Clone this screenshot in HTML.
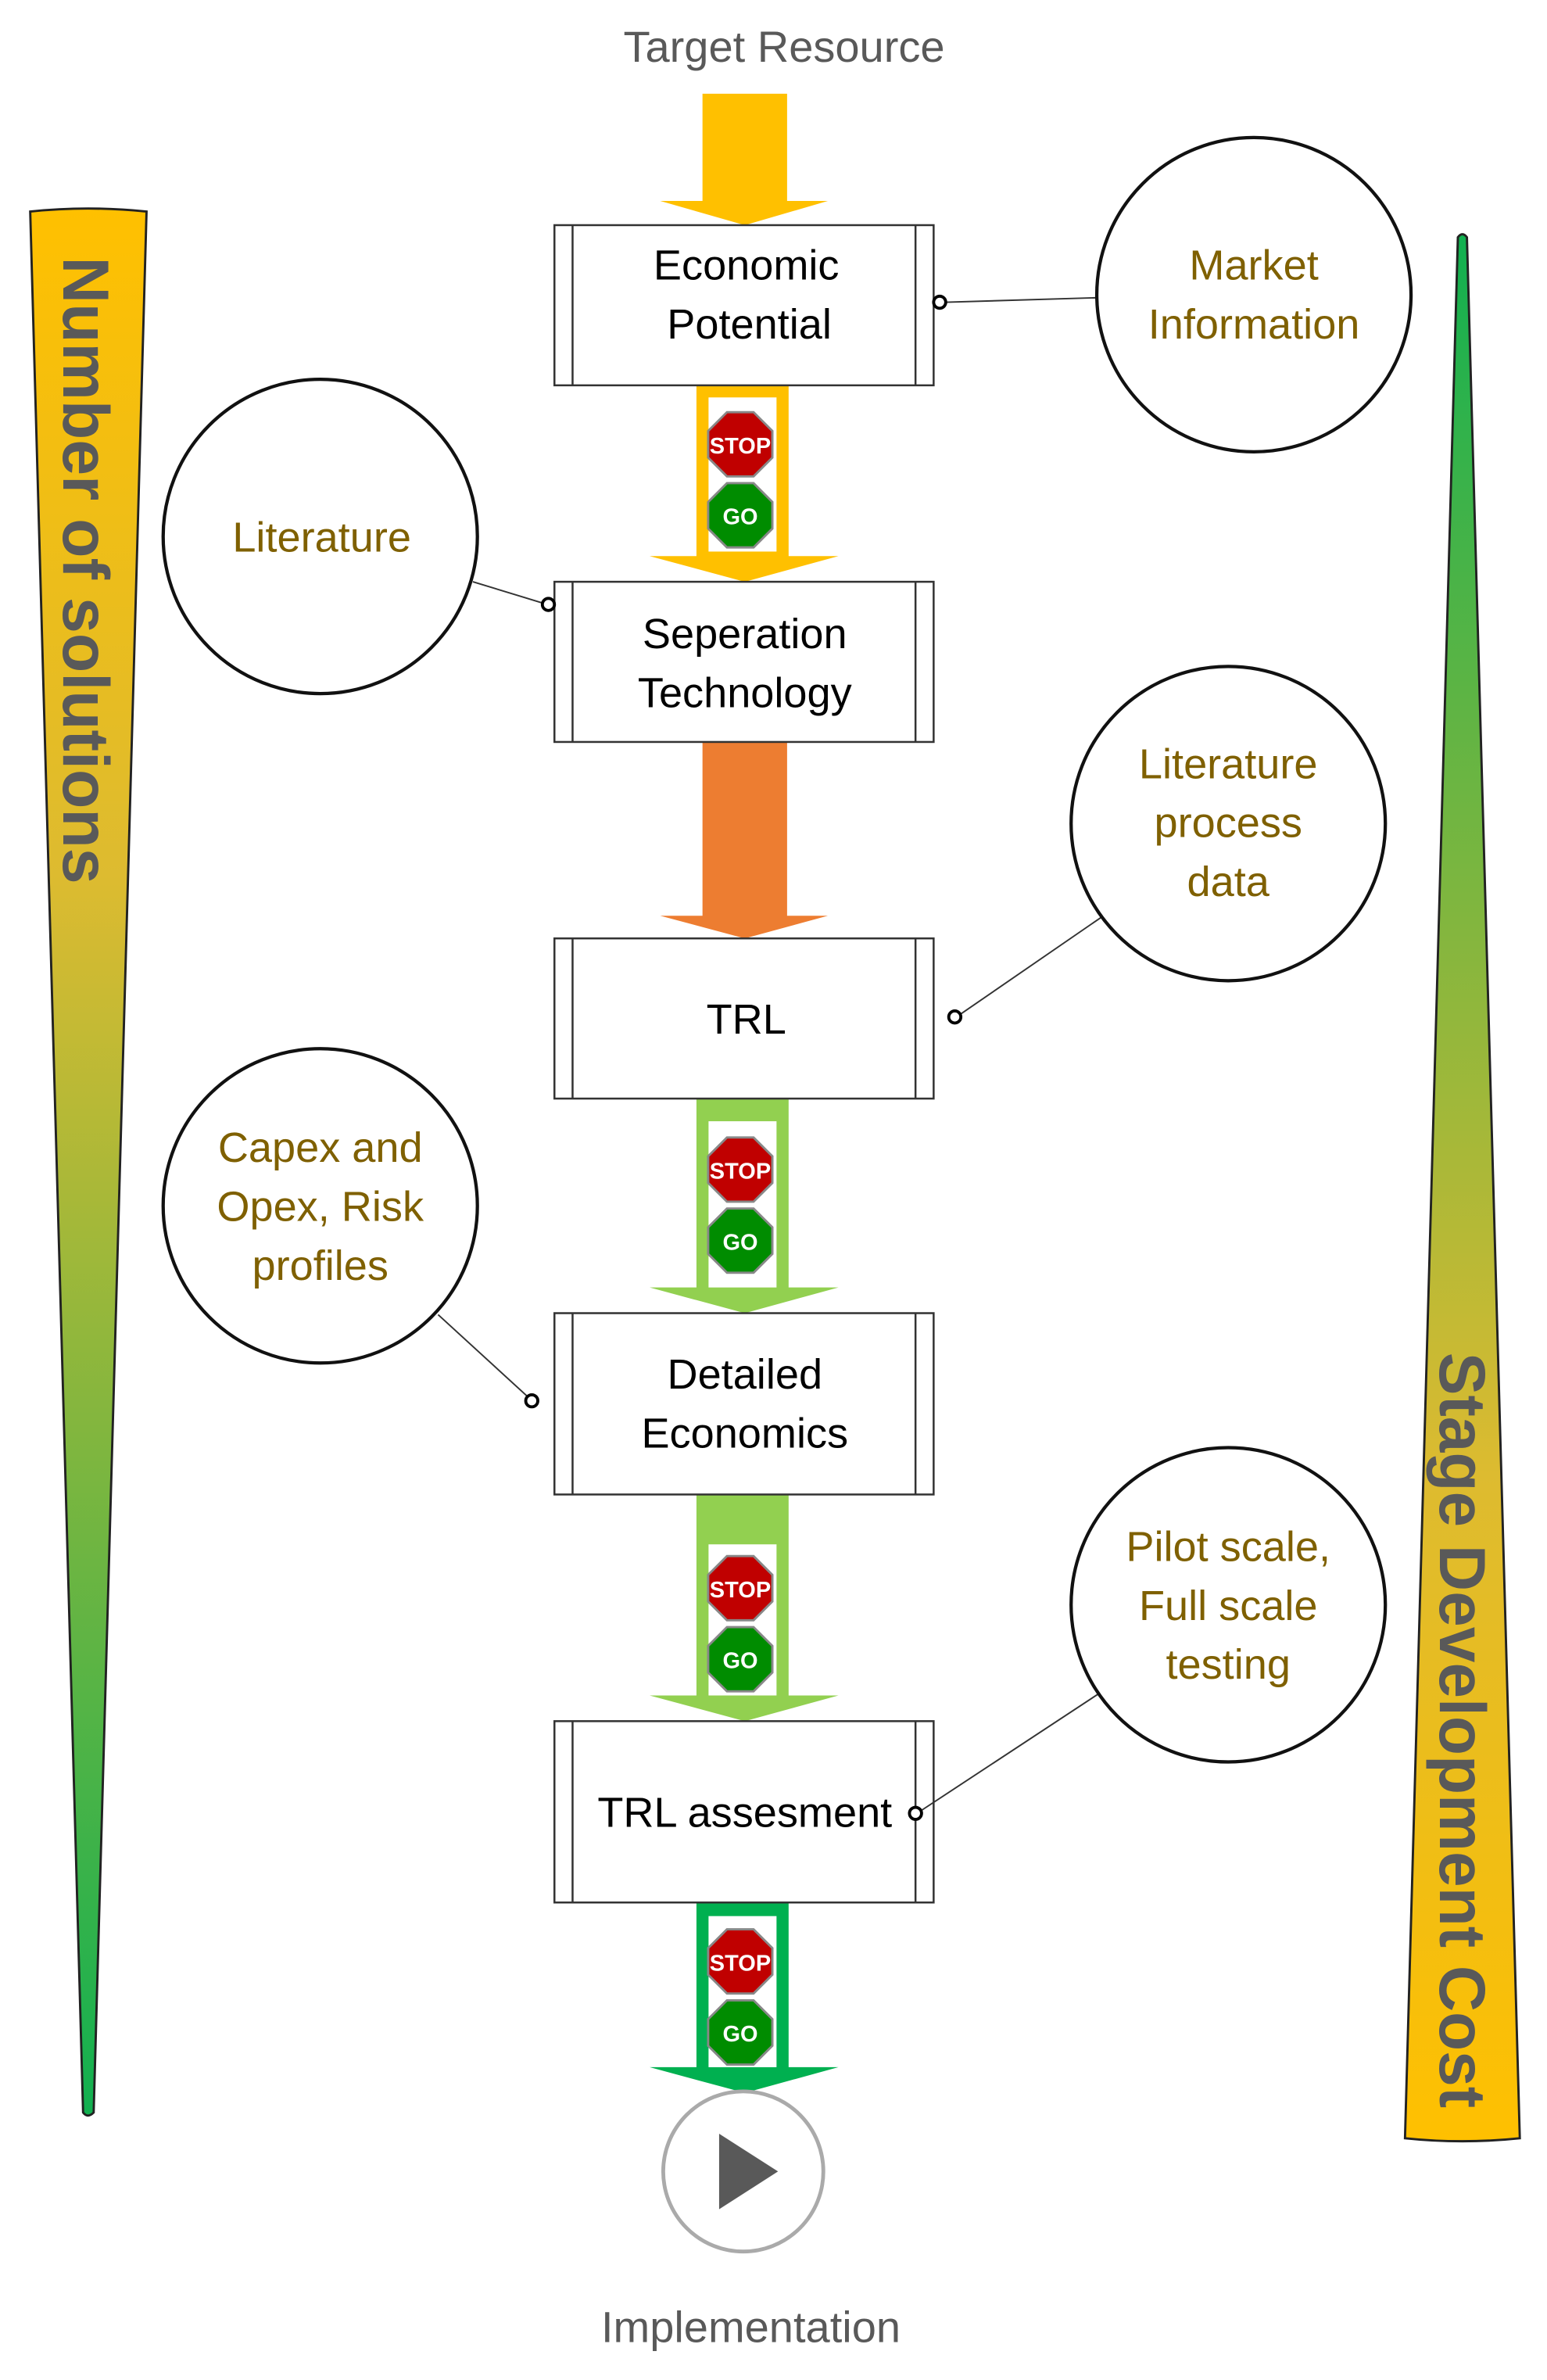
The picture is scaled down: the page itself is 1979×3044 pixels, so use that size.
<!DOCTYPE html>
<html><head><meta charset="utf-8"><style>
html,body{margin:0;padding:0;background:#fff;}
svg{display:block;}
text{font-family:"Liberation Sans",sans-serif;}
</style></head><body>
<svg width="1979" height="3044" viewBox="0 0 1024 1575" preserveAspectRatio="none" xmlns="http://www.w3.org/2000/svg">
<defs>
<linearGradient id="gl" x1="0" y1="0" x2="0" y2="1"><stop offset="0" stop-color="#FFC000"/><stop offset="0.35" stop-color="#DDBB30"/><stop offset="1" stop-color="#11B050"/></linearGradient>
<linearGradient id="gr" x1="0" y1="0" x2="0" y2="1"><stop offset="0" stop-color="#11B050"/><stop offset="0.65" stop-color="#DDBB30"/><stop offset="1" stop-color="#FFC000"/></linearGradient>
</defs>
<!-- side triangles -->
<path d="M20,140 Q58,136 97,140 L62,1398 Q58,1402 55,1398 Z" fill="url(#gl)" stroke="#222" stroke-width="1.5"/>
<text transform="translate(42,170) rotate(90)" font-size="43" font-weight="bold" fill="#595959" textLength="415" lengthAdjust="spacingAndGlyphs">Number of solutions</text>
<path d="M965,157 Q968,153 971,157 L1006,1415 Q968,1419 930,1415 Z" fill="url(#gr)" stroke="#222" stroke-width="1.5"/>
<text transform="translate(953,895) rotate(90)" font-size="43" font-weight="bold" fill="#595959" textLength="500" lengthAdjust="spacingAndGlyphs">Stage Development Cost</text>

<!-- labels -->
<text x="519" y="41" font-size="29" fill="#595959" text-anchor="middle">Target Resource</text>
<text x="497" y="1550" font-size="29" fill="#595959" text-anchor="middle">Implementation</text>

<!-- arrows -->
<polygon points="465,62 521,62 521,133 548,133 493,149 437,133 465,133" fill="#FFC000"/>
<polygon points="461,255 522,255 522,368 555,368 493,385 430,368 461,368" fill="#FFC000"/>
<rect x="469" y="263" width="45" height="102" fill="#fff"/>
<polygon points="465,491 521,491 521,606 548,606 493,621 437,606 465,606" fill="#ED7D31"/>
<polygon points="461,727 522,727 522,852 555,852 493,869 430,852 461,852" fill="#92D050"/>
<rect x="469" y="742" width="45" height="110" fill="#fff"/>
<polygon points="461,989 522,989 522,1122 555,1122 493,1139 430,1122 461,1122" fill="#92D050"/>
<rect x="469" y="1022" width="45" height="100" fill="#fff"/>
<polygon points="461,1259 522,1259 522,1368 555,1368 493,1385 430,1368 461,1368" fill="#00B050"/>
<rect x="469" y="1268" width="45" height="100" fill="#fff"/>

<!-- stop/go signs -->
<g transform="translate(490,294)"><polygon points="21.25,8.8 8.8,21.25 -8.8,21.25 -21.25,8.8 -21.25,-8.8 -8.8,-21.25 8.8,-21.25 21.25,-8.8" fill="#C00000" stroke="#888" stroke-width="1.5"/><text y="6" font-size="15" font-weight="bold" fill="#fff" text-anchor="middle">STOP</text></g>
<g transform="translate(490,341)"><polygon points="21.25,8.8 8.8,21.25 -8.8,21.25 -21.25,8.8 -21.25,-8.8 -8.8,-21.25 8.8,-21.25 21.25,-8.8" fill="#008C00" stroke="#888" stroke-width="1.5"/><text y="6" font-size="15" font-weight="bold" fill="#fff" text-anchor="middle">GO</text></g>
<g transform="translate(490,774)"><polygon points="21.25,8.8 8.8,21.25 -8.8,21.25 -21.25,8.8 -21.25,-8.8 -8.8,-21.25 8.8,-21.25 21.25,-8.8" fill="#C00000" stroke="#888" stroke-width="1.5"/><text y="6" font-size="15" font-weight="bold" fill="#fff" text-anchor="middle">STOP</text></g>
<g transform="translate(490,821)"><polygon points="21.25,8.8 8.8,21.25 -8.8,21.25 -21.25,8.8 -21.25,-8.8 -8.8,-21.25 8.8,-21.25 21.25,-8.8" fill="#008C00" stroke="#888" stroke-width="1.5"/><text y="6" font-size="15" font-weight="bold" fill="#fff" text-anchor="middle">GO</text></g>
<g transform="translate(490,1051)"><polygon points="21.25,8.8 8.8,21.25 -8.8,21.25 -21.25,8.8 -21.25,-8.8 -8.8,-21.25 8.8,-21.25 21.25,-8.8" fill="#C00000" stroke="#888" stroke-width="1.5"/><text y="6" font-size="15" font-weight="bold" fill="#fff" text-anchor="middle">STOP</text></g>
<g transform="translate(490,1098)"><polygon points="21.25,8.8 8.8,21.25 -8.8,21.25 -21.25,8.8 -21.25,-8.8 -8.8,-21.25 8.8,-21.25 21.25,-8.8" fill="#008C00" stroke="#888" stroke-width="1.5"/><text y="6" font-size="15" font-weight="bold" fill="#fff" text-anchor="middle">GO</text></g>
<g transform="translate(490,1298)"><polygon points="21.25,8.8 8.8,21.25 -8.8,21.25 -21.25,8.8 -21.25,-8.8 -8.8,-21.25 8.8,-21.25 21.25,-8.8" fill="#C00000" stroke="#888" stroke-width="1.5"/><text y="6" font-size="15" font-weight="bold" fill="#fff" text-anchor="middle">STOP</text></g>
<g transform="translate(490,1345)"><polygon points="21.25,8.8 8.8,21.25 -8.8,21.25 -21.25,8.8 -21.25,-8.8 -8.8,-21.25 8.8,-21.25 21.25,-8.8" fill="#008C00" stroke="#888" stroke-width="1.5"/><text y="6" font-size="15" font-weight="bold" fill="#fff" text-anchor="middle">GO</text></g>

<!-- boxes -->
<g fill="#fff" stroke="#333" stroke-width="1.3">
<rect x="367" y="149" width="251" height="106"/><line x1="379" y1="149" x2="379" y2="255"/><line x1="606" y1="149" x2="606" y2="255"/>
<rect x="367" y="385" width="251" height="106"/><line x1="379" y1="385" x2="379" y2="491"/><line x1="606" y1="385" x2="606" y2="491"/>
<rect x="367" y="621" width="251" height="106"/><line x1="379" y1="621" x2="379" y2="727"/><line x1="606" y1="621" x2="606" y2="727"/>
<rect x="367" y="869" width="251" height="120"/><line x1="379" y1="869" x2="379" y2="989"/><line x1="606" y1="869" x2="606" y2="989"/>
<rect x="367" y="1139" width="251" height="120"/><line x1="379" y1="1139" x2="379" y2="1259"/><line x1="606" y1="1139" x2="606" y2="1259"/>
</g>
<g font-size="28" fill="#000" text-anchor="middle">
<text x="494" y="185">Economic</text><text x="496" y="224">Potential</text>
<text x="493" y="429">Seperation</text><text x="493" y="468">Technology</text>
<text x="494" y="684">TRL</text>
<text x="493" y="919">Detailed</text><text x="493" y="958">Economics</text>
<text x="493" y="1209">TRL assesment</text>
</g>

<!-- connectors -->
<g stroke="#333" stroke-width="1" fill="none">
<line x1="626" y1="200" x2="727" y2="197"/>
<line x1="313" y1="385" x2="359" y2="399"/>
<line x1="636" y1="671" x2="729" y2="607"/>
<line x1="290" y1="870" x2="349" y2="924"/>
<line x1="610" y1="1198" x2="727" y2="1121"/>
</g>
<g stroke="#000" stroke-width="2" fill="#fff">
<circle cx="622" cy="200" r="4"/><circle cx="363" cy="400" r="4"/><circle cx="632" cy="673" r="4"/><circle cx="352" cy="927" r="4"/><circle cx="606" cy="1200" r="4"/>
</g>

<!-- info circles -->
<g fill="#fff" stroke="#111" stroke-width="2.2">
<circle cx="830" cy="195" r="104"/><circle cx="212" cy="355" r="104"/><circle cx="813" cy="545" r="104"/><circle cx="212" cy="798" r="104"/><circle cx="813" cy="1062" r="104"/>
</g>
<g font-size="28" fill="#7F6000" text-anchor="middle">
<text x="830" y="185">Market</text><text x="830" y="224">Information</text>
<text x="213" y="365">Literature</text>
<text x="813" y="515">Literature</text><text x="813" y="554">process</text><text x="813" y="593">data</text>
<text x="212" y="769">Capex and</text><text x="212" y="808">Opex, Risk</text><text x="212" y="847">profiles</text>
<text x="813" y="1033">Pilot scale,</text><text x="813" y="1072">Full scale</text><text x="813" y="1111">testing</text>
</g>

<!-- play -->
<circle cx="492" cy="1437" r="53" fill="#fff" stroke="#aaa" stroke-width="2.5"/>
<polygon points="476,1412 476,1462 515,1437" fill="#595959"/>
</svg>
</body></html>
